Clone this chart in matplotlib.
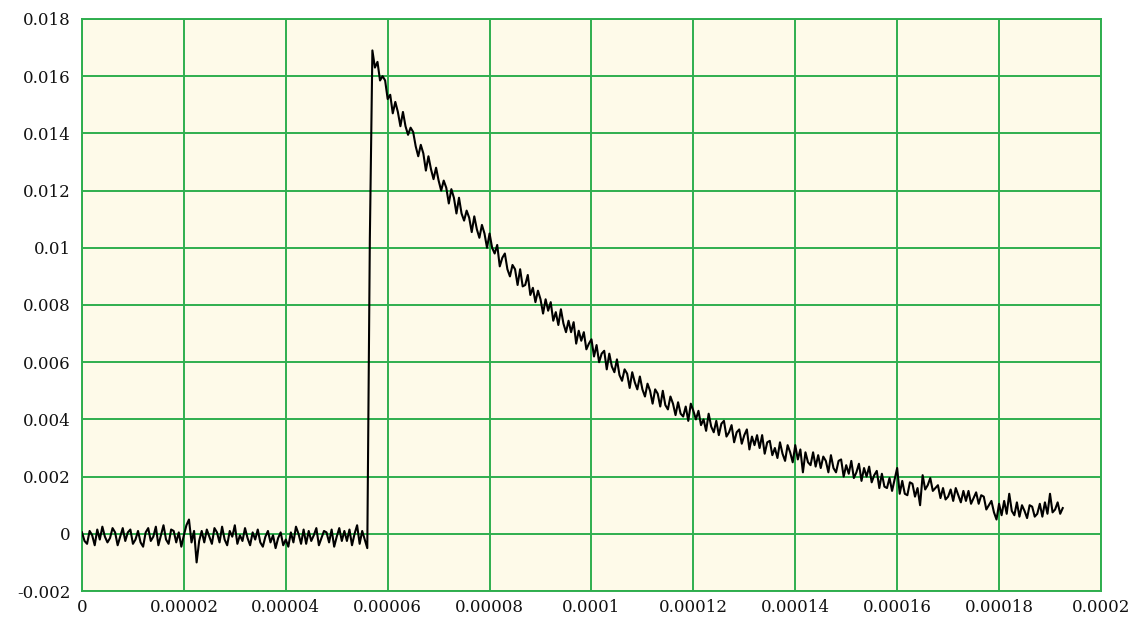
import numpy as np
import matplotlib.pyplot as plt

# sampled trace, 0.5 us per sample, values in units of 1e-3
dt = 0.5e-6

baseline = [
    0.05, -0.25, -0.35, 0.1, -0.05, -0.4, 0.15, -0.2,
    0.25, -0.1, -0.3, -0.15, 0.2, 0.05, -0.4, -0.1,
    0.2, -0.25, 0.05, 0.15, -0.35, -0.2, 0.1, -0.3,
    -0.45, 0.05, 0.2, -0.25, -0.1, 0.25, -0.4, -0.05,
    0.3, -0.2, -0.35, 0.15, 0.1, -0.3, 0.05, -0.45,
    -0.05, 0.3, 0.5, -0.3, 0.1, -1.0, -0.25, 0.1,
    -0.3, 0.15, -0.1, -0.35, 0.2, 0.05, -0.3, 0.25,
    -0.2, -0.4, 0.1, -0.1, 0.3, -0.35, -0.05, -0.25,
    0.2, -0.15, -0.4, 0.05, -0.2, 0.15, -0.3, -0.45,
    -0.1, 0.1, -0.3, -0.05, -0.5, -0.15, 0.05, -0.4,
    -0.2, -0.45, 0.05, -0.3, 0.25, 0.0, -0.35, 0.15,
    -0.35, 0.1, -0.25, -0.05, 0.2, -0.4, -0.15, 0.1,
    0.05, -0.3, 0.15, -0.45, -0.1, 0.2, -0.25, 0.1,
    -0.25, 0.15, -0.4, 0.0, 0.3, -0.35, 0.1, -0.2,
    -0.5,
]

rise = [10.3]

decay = [
    16.9, 16.3, 16.5, 15.85, 16.0, 15.85, 15.2, 15.35,
    14.7, 15.1, 14.75, 14.25, 14.75, 14.25, 13.95, 14.2,
    14.05, 13.55, 13.2, 13.6, 13.3, 12.7, 13.2, 12.75,
    12.4, 12.8, 12.35, 12.0, 12.35, 12.1, 11.55, 12.05,
    11.75, 11.2, 11.75, 11.2, 10.95, 11.3, 11.05, 10.55,
    11.1, 10.65, 10.35, 10.8, 10.5, 10.0, 10.5, 10.0,
    9.8, 10.1, 9.35, 9.65, 9.8, 9.25, 9.0, 9.4,
    9.25, 8.7, 9.25, 8.65, 8.7, 9.05, 8.35, 8.6,
    8.1, 8.5, 8.2, 7.7, 8.2, 7.8, 8.1, 7.45,
    7.75, 7.3, 7.85, 7.35, 7.05, 7.45, 7.05, 7.4,
    6.65, 7.1, 6.75, 7.05, 6.45, 6.65, 6.8, 6.2,
    6.6, 6.0, 6.3, 6.4, 5.75, 6.3, 5.85, 5.65,
    6.1, 5.55, 5.35, 5.75, 5.6, 5.1, 5.65, 5.3,
    5.05, 5.5, 5.05, 4.8, 5.25, 5.0, 4.55, 5.05,
    4.9, 4.45, 5.0, 4.5, 4.35, 4.8, 4.55, 4.15,
    4.6, 4.2, 4.1, 4.45, 3.95, 4.55, 4.3, 4.0,
    4.3, 3.8, 4.0, 3.6, 4.2, 3.75, 3.55, 3.95,
    3.45, 3.85, 3.95, 3.4, 3.55, 3.8, 3.2, 3.55,
    3.65, 3.15, 3.45, 3.65, 2.95, 3.4, 3.1, 3.45,
    3.0, 3.45, 2.8, 3.2, 3.25, 2.75, 3.0, 2.65,
    3.2, 2.8, 2.55, 3.1, 2.85, 2.5, 3.1, 2.6,
    2.95, 2.15, 2.85, 2.5, 2.4, 2.85, 2.35, 2.75,
    2.3, 2.7, 2.55, 2.15, 2.75, 2.3, 2.15, 2.55,
    2.6, 2.0, 2.4, 2.1, 2.55, 1.95, 2.15, 2.45,
    1.85, 2.3, 2.0, 2.35, 1.8, 2.05, 2.2, 1.6,
    2.1, 1.65, 1.6, 1.95, 1.5, 1.9, 2.3, 1.4,
    1.85, 1.4, 1.35, 1.8, 1.75, 1.3, 1.6, 1.0,
    2.05, 1.55, 1.7, 1.95, 1.5, 1.6, 1.7, 1.25,
    1.6, 1.2, 1.3, 1.55, 1.15, 1.6, 1.35, 1.1,
    1.5, 1.15, 1.5, 1.05, 1.25, 1.45, 1.05, 1.35,
    1.3, 0.85, 1.0, 1.15, 0.75, 0.5, 1.05, 0.65,
    1.15, 0.7, 1.4, 0.8, 0.65, 1.1, 0.6, 1.0,
    0.8, 0.55, 1.0, 0.95, 0.6, 0.7, 1.05, 0.6,
    1.1, 0.7, 1.4, 0.75, 0.85, 1.1, 0.7, 0.9,
]

xticks = [0, 0.00002, 0.00004, 0.00006, 0.00008, 0.0001,
          0.00012, 0.00014, 0.00016, 0.00018, 0.0002]
xlabels = ["0", "0.00002", "0.00004", "0.00006", "0.00008", "0.0001",
           "0.00012", "0.00014", "0.00016", "0.00018", "0.0002"]
yticks = [-0.002, 0, 0.002, 0.004, 0.006, 0.008, 0.01,
          0.012, 0.014, 0.016, 0.018]
ylabels = ["-0.002", "0", "0.002", "0.004", "0.006", "0.008", "0.01",
           "0.012", "0.014", "0.016", "0.018"]

signal = np.array(baseline + rise + decay) * 1e-3
t = np.arange(len(signal)) * dt

grid_green = "#2fae4e"

fig = plt.figure(figsize=(11.37, 6.22), dpi=100)
ax = fig.add_axes([0.0721, 0.0498, 0.8962, 0.9197])
ax.set_facecolor("#fefae9")

ax.plot(t, signal, color="black", lw=1.5, zorder=3)

ax.set_xlim(0, 0.0002)
ax.set_ylim(-0.002, 0.018)
ax.set_xticks(xticks)
ax.set_xticklabels(xlabels)
ax.set_yticks(yticks)
ax.set_yticklabels(ylabels)
ax.tick_params(length=0, labelsize=12, colors="#111111")
ax.tick_params(axis="y", pad=8)
ax.tick_params(axis="x", pad=6)
for lab in ax.get_xticklabels() + ax.get_yticklabels():
    lab.set_family("DejaVu Serif")

ax.grid(True, color=grid_green, lw=1.4, zorder=1)
for s in ax.spines.values():
    s.set_color(grid_green)
    s.set_linewidth(1.4)

fig.savefig("out.png", dpi=100)
